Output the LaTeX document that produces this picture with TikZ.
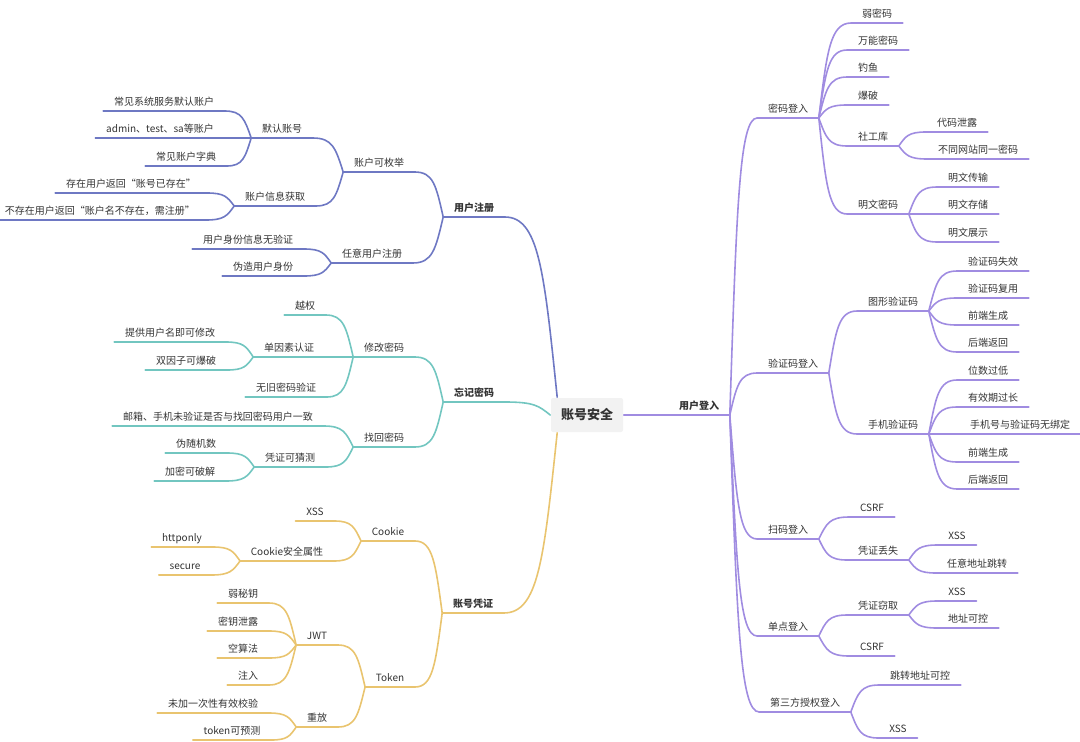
\documentclass[tikz,border=0pt]{standalone}
\usepackage{fontspec}
\newfontfamily\cjk{Noto Sans CJK SC}
\usetikzlibrary{calc}

\definecolor{regc}{HTML}{6E78C3}
\definecolor{fgtc}{HTML}{72C6C0}
\definecolor{credc}{HTML}{E9C46F}
\definecolor{logc}{HTML}{A08CE1}
\definecolor{inkc}{HTML}{333333}

\tikzset{
  twig/.style={to path={let \p1=(\tikztostart), \p2=(\tikztotarget) in
    .. controls (\x1+0.25*\x2-0.25*\x1, \y1+0.7*\y2-0.7*\y1)
    and (\x1+0.35*\x2-0.35*\x1, \y2) .. (\tikztotarget)}},
  topic/.style={anchor=south, text=inkc, font=\cjk\fontsize{10}{12}\selectfont,
    inner xsep=10pt, inner ysep=3pt, text height=8pt, text depth=2pt},
  mtopic/.style={topic, font=\cjk\bfseries\fontsize{10}{12}\selectfont},
  rootbox/.style={fill=black!5, text=inkc, rounded corners=2pt,
    font=\cjk\bfseries\fontsize{13}{15}\selectfont,
    minimum width=72pt, minimum height=34pt}
}

\begin{document}
\begin{tikzpicture}[x=1pt, y=-1pt, line width=1.6pt, line cap=round]
  \useasboundingbox (0,0) rectangle (1080,742);

  \node[rootbox] (root) at (587,415) {账号安全};

  % main branches
  \node[mtopic] (reg) at (474,217) {用户注册};
  \node[mtopic] (fgt) at (474,402) {忘记密码};
  \node[mtopic] (cred) at (473,613) {账号凭证};
  \node[mtopic] (login) at (699,415) {用户登入};
  \draw[regc] (reg.south west) -- (reg.south east);
  \draw[fgtc] (fgt.south west) -- (fgt.south east);
  \draw[credc] (cred.south west) -- (cred.south east);
  \draw[logc] (login.south west) -- (login.south east);
  \draw[regc, twig] ([xshift=7pt]root.north west) to (reg.south east);
  \draw[fgtc, twig] (root.west) to (fgt.south east);
  \draw[credc, twig] ([xshift=7pt]root.south west) to (cred.south east);
  \draw[logc] (root.east) -- (login.south west);

  % left side: user registration
  \begin{scope}[color=regc]
  \foreach \nm/\lab/\x/\y/\prt in {
    mj/账户可枚举/379/172/reg,
    ryzc/任意用户注册/372/263/reg,
    mrzh/默认账号/282/138/mj,
    xxhq/账户信息获取/275/206/mj,
    xtzh/常见系统服务默认账户/164/111/mrzh,
    admin/{admin、test、sa等账户}/160/138/mrzh,
    zdian/常见账户字典/186/166/mrzh,
    yicz/{存在用户返回“账号已存在”}/131/193/xxhq,
    bucz/{不存在用户返回“账户名不存在，需注册”}/100/220/xxhq,
    wyz/用户身份信息无验证/248/249/ryzc,
    wzsf/伪造用户身份/263/276/ryzc} {
    \node[topic] (\nm) at (\x,\y) {\lab};
    \draw (\nm.south west) -- (\nm.south east);
    \draw[twig] (\prt.south west) to (\nm.south east);
  }
  \end{scope}

  % left side: forgotten password
  \begin{scope}[color=fgtc]
  \foreach \nm/\lab/\x/\y/\prt in {
    xgmm/修改密码/384/357/fgt,
    zhmm/找回密码/384/447/fgt,
    yq/越权/305/315/xgmm,
    dysrz/单因素认证/289/357/xgmm,
    wjmm/无旧密码验证/286/397/xgmm,
    tgyhm/提供用户名即可修改/170/342/dysrz,
    syz/双因子可爆破/186/370/dysrz,
    yxsj/邮箱、手机未验证是否与找回密码用户一致/218/426/zhmm,
    pzkcc/凭证可猜测/290/467/zhmm,
    wsjs/伪随机数/196/453/pzkcc,
    jmpj/加密可破解/190/481/pzkcc} {
    \node[topic] (\nm) at (\x,\y) {\lab};
    \draw (\nm.south west) -- (\nm.south east);
    \draw[twig] (\prt.south west) to (\nm.south east);
  }
  \end{scope}

  % left side: credentials
  \begin{scope}[color=credc]
  \foreach \nm/\lab/\x/\y/\prt in {
    ck/Cookie/388/541/cred,
    tk/Token/390/687/cred,
    ckxss/XSS/315/521/ck,
    ckaq/Cookie安全属性/287/561/ck,
    httponly/httponly/182/547/ckaq,
    secure/secure/185/575/ckaq,
    jwt/JWT/317/645/tk,
    cf/重放/317/727/tk,
    rmy/弱秘钥/243/603/jwt,
    myxl/密钥泄露/238/631/jwt,
    ksf/空算法/243/658/jwt,
    zr/注入/248/685/jwt,
    wjyc/未加一次性有效校验/213/713/cf,
    tkyc/token可预测/232/740/cf} {
    \node[topic] (\nm) at (\x,\y) {\lab};
    \draw (\nm.south west) -- (\nm.south east);
    \draw[twig] (\prt.south west) to (\nm.south east);
  }
  \end{scope}

  % right side: login
  \begin{scope}[color=logc]
  \foreach \nm/\lab/\x/\y/\prt in {
    pwd/密码登入/788/118/login,
    vcode/验证码登入/793/373/login,
    scan/扫码登入/788/539/login,
    sso/单点登入/788/636/login,
    oauth/第三方授权登入/805/712/login,
    rmm/弱密码/877/23/pwd,
    wnmm/万能密码/878/50/pwd,
    dy/钓鱼/868/77/pwd,
    bp/爆破/868/105/pwd,
    sgk/社工库/873/146/pwd,
    mwmm/明文密码/878/214/pwd,
    dmxl/代码泄露/957/132/sgk,
    btwz/不同网站同一密码/978/159/sgk,
    mwcs/明文传输/968/187/mwmm,
    mwcc/明文存储/968/214/mwmm,
    mwzs/明文展示/968/242/mwmm,
    txyzm/图形验证码/893/311/vcode,
    sjyzm/手机验证码/893/434/vcode,
    sx/验证码失效/993/271/txyzm,
    fy/验证码复用/993/298/txyzm,
    qdsc/前端生成/988/325/txyzm,
    hdfh/后端返回/988/352/txyzm,
    wsgd/位数过低/988/380/sjyzm,
    yxq/有效期过长/993/407/sjyzm,
    wbd/手机号与验证码无绑定/1020/434/sjyzm,
    qdsc2/前端生成/988/462/sjyzm,
    hdfh2/后端返回/988/489/sjyzm,
    scsrf/CSRF/872/517/scan,
    pzds/凭证丢失/878/560/scan,
    dsxss/XSS/957/545/pzds,
    rydz/任意地址跳转/977/573/pzds,
    pzqq/凭证窃取/878/615/sso,
    ssocsrf/CSRF/872/656/sso,
    qqxss/XSS/957/601/pzqq,
    dzkk/地址可控/968/628/pzqq,
    tzdz/跳转地址可控/920/685/oauth,
    oxss/XSS/898/738/oauth} {
    \node[topic] (\nm) at (\x,\y) {\lab};
    \draw (\nm.south west) -- (\nm.south east);
    \draw[twig] (\prt.south east) to (\nm.south west);
  }
  \end{scope}
\end{tikzpicture}
\end{document}
